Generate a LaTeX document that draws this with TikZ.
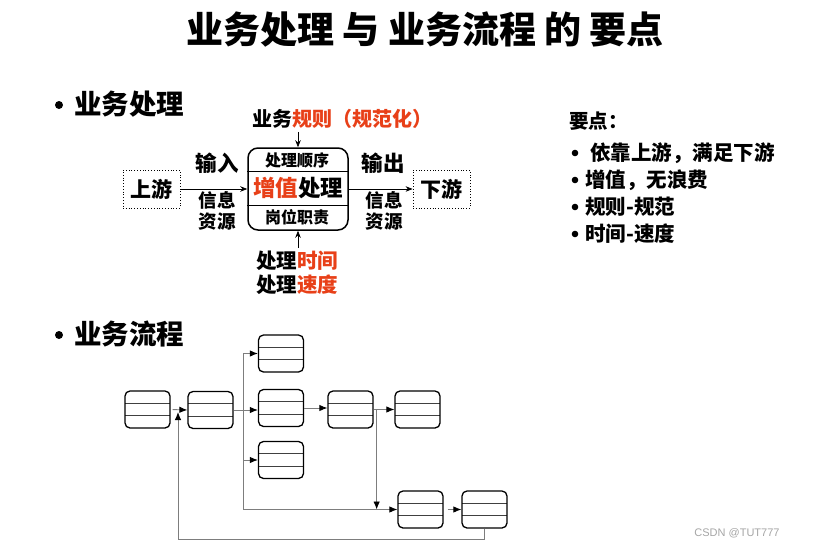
\documentclass[tikz,border=0pt]{standalone}
\usepackage{fontspec}
\setmainfont{Noto Sans CJK SC}
\newfontfamily\wmfont{Liberation Sans}
\usetikzlibrary{arrows.meta,calc}
\definecolor{accent}{RGB}{232,64,24}
\definecolor{flowgray}{RGB}{125,125,125}
\tikzset{
  txt/.style={inner sep=0pt,font=\bfseries\fontsize{#1}{#1}\selectfont},
  dotbox/.style={draw,dotted,line width=0.8pt,minimum width=57pt,minimum height=38pt,inner sep=0pt,font=\bfseries\fontsize{21}{21}\selectfont},
  arr/.style={draw,line width=0.7pt,-{Stealth[length=7pt,width=5.5pt]}},
  flowline/.style={draw=flowgray,line width=0.9pt},
  flow/.style={flowline,-{Latex[length=8pt,width=6.5pt,color=black]}},
  fbox/.style={draw,line width=1.3pt,rounded corners=5pt,minimum width=45pt,minimum height=37pt,inner sep=0pt,
    path picture={
      \draw[line width=0.8pt,black!75] ([yshift=-12.3pt]path picture bounding box.north west) -- ([yshift=-12.3pt]path picture bounding box.north east);
      \draw[line width=0.8pt,black!75] ([yshift=12.3pt]path picture bounding box.south west) -- ([yshift=12.3pt]path picture bounding box.south east);
    }},
}
\begin{document}
\begin{tikzpicture}[x=1pt,y=-1pt]
\useasboundingbox (0,0) rectangle (817,549);
\fill[white] (0,0) rectangle (817,549);

% title
\node[txt=37] (title) at (425,30) {业务处理 与 业务流程 的 要点};

% section headings
\fill (59,105) circle (4pt);
\node[txt=27.5,anchor=west] (h1) at (74,104) {业务处理};
\fill (59,335) circle (4pt);
\node[txt=27.5,anchor=west] (h2) at (74,334) {业务流程};

% ---- business processing ----
\node[dotbox] (up) at (151.5,189) {上游};
\node[dotbox] (down) at (441.5,189) {下游};
\node[draw,line width=1.5pt,rounded corners=10pt,minimum width=100pt,minimum height=82pt,inner sep=0pt] (proc) at (298,189) {};
\draw[line width=1.2pt] ([yshift=-24pt]proc.north west) -- ([yshift=-24pt]proc.north east);
\draw[line width=1.2pt] ([yshift=25pt]proc.south west) -- ([yshift=25pt]proc.south east);
\node[txt=16] (order) at (297,160) {处理顺序};
\node[txt=22.5] (value) at (298,188) {\textcolor{accent}{增值}处理};
\node[txt=16] (duty) at (297,217) {岗位职责};

\draw[arr] (up.east) -- (proc.west);
\draw[arr] (proc.east) -- (down.west);

\node[txt=21.5] (in) at (217,163) {输入};
\node[txt=18.5,align=center] (inres) at (217,211) {信息\\[2pt]资源};
\node[txt=21.5] (out) at (383,163) {输出};
\node[txt=18.5,align=center] (outres) at (384,211) {信息\\[2pt]资源};

\node[txt=20] (rule) at (342,119) {业务\textcolor{accent}{规则（规范化）}};
\draw[arr] (proc.north |- rule.south) ++(0,3) -- (proc.north);

\node[txt=20.5,align=left] (time) at (297,273) {处理\textcolor{accent}{时间}\\[3pt]处理\textcolor{accent}{速度}};
\draw[arr] (proc.south |- time.north) ++(0,-3) -- (proc.south);

% key points
\node[txt=19.5,anchor=west] (kp) at (569,121) {要点：};
\fill (575,153) circle (3.3pt);
\node[txt=20.5,anchor=west] (k1) at (590,153) {依靠上游，满足下游};
\fill (575,180) circle (3.3pt);
\node[txt=20.5,anchor=west] (k2) at (585,180) {增值，无浪费};
\fill (575,207) circle (3.3pt);
\node[txt=20.5,anchor=west] (k3) at (585,207) {规则-规范};
\fill (575,234) circle (3.3pt);
\node[txt=20.5,anchor=west] (k4) at (585,234) {时间-速度};

% ---- business flow ----
\node[fbox] (b1) at (147.5,409.5) {};
\node[fbox] (b2) at (210.5,410) {};
\node[fbox] (b3) at (281,353.5) {};
\node[fbox] (b4) at (281,408) {};
\node[fbox] (b5) at (281,460) {};
\node[fbox] (b6) at (350.5,409.5) {};
\node[fbox] (b7) at (417.5,409.5) {};
\node[fbox] (b8) at (420.5,509.5) {};
\node[fbox] (b9) at (484.5,509.5) {};

\coordinate (trunk) at (243,0);
\coordinate (fb) at (178,412);
\coordinate (fbl) at (178,539);

\draw[flow,shorten <=2pt] (b1.east) -- (b2.west);
\draw[flowline] (b9.south) |- (fbl);
\draw[flow] (fbl) -- (fb);

\draw[flow] (b2.east) -- (b2.east -| b4.west);
\draw[flowline] (b3.west -| trunk) -- (b8.west -| trunk);
\draw[flow] (b3.west -| trunk) -- (b3.west);
\draw[flow] (b5.west -| trunk) -- (b5.west);
\draw[flow] (b8.west -| trunk) -- (b8.west);
\draw[flow] (b4.east) -- (b4.east -| b6.west);
\draw[flow] (b6.east) -- (b7.west);
\draw[flow] ([xshift=3pt]b6.east) -- ([xshift=3pt]b6.east |- b8.west);
\draw[flow,shorten <=4pt] (b8.east) -- (b9.west);

% footer mark
\node[inner sep=0pt,text=black!35,font=\wmfont\fontsize{11}{11}\selectfont] (csdn) at (737,533) {CSDN @TUT777};
\end{tikzpicture}
\end{document}
